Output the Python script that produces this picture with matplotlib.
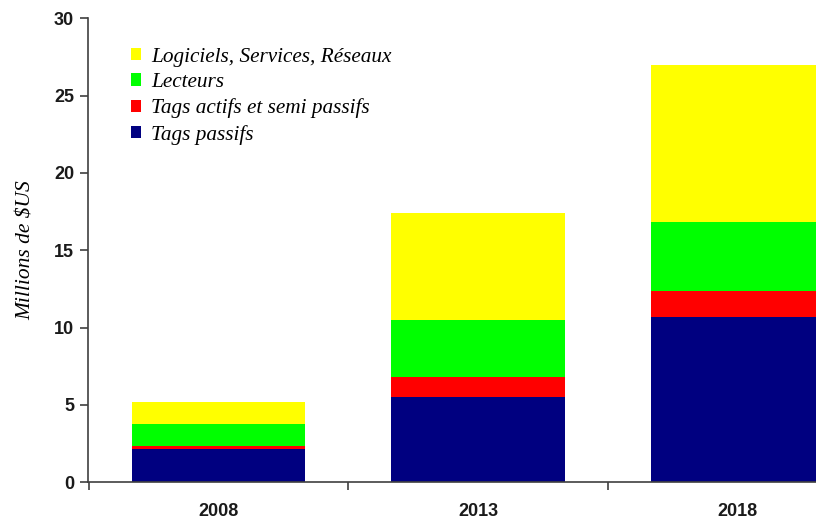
import matplotlib
matplotlib.use("Agg")
import matplotlib.pyplot as plt
from matplotlib.patches import Patch
import numpy as np

years = ["2008", "2013", "2018"]
tags_passifs = [2.15, 5.51, 10.71]
tags_actifs = [0.22, 1.32, 1.64]
lecteurs = [1.42, 3.66, 4.46]
logiciels = [1.42, 6.90, 10.16]

series = [
    ("Tags passifs", tags_passifs, "#000080"),
    ("Tags actifs et semi passifs", tags_actifs, "#ff0000"),
    ("Lecteurs", lecteurs, "#00ff00"),
    ("Logiciels, Services, Réseaux", logiciels, "#ffff00"),
]

fig = plt.figure(figsize=(8.16, 5.22), dpi=100)
ax = fig.add_axes([88/816, 1-482.3/522, 1-88/816, (482.3-18.3)/522])

x = np.arange(len(years))
bottom = np.zeros(len(years))
for name, vals, col in series:
    ax.bar(x, vals, width=0.667, bottom=bottom, color=col, edgecolor="none", zorder=2)
    bottom += np.array(vals)

ax.set_xlim(-0.503, 2.3025)
ax.set_ylim(0, 30)
ax.set_yticks(np.arange(0, 31, 5))
ax.set_xticks([-0.5, 0.5, 1.5])
ax.set_xticklabels([])
ax.set_xticks(x, minor=True)
ax.set_xticklabels(years, minor=True)
ax.tick_params(axis="x", which="minor", length=0, pad=15)
ax.tick_params(axis="x", which="major", length=6, width=1.2, color="#404040", direction="out")
ax.tick_params(axis="y", length=6, width=1.2, color="#404040", direction="out", pad=4)
for lab in ax.get_yticklabels() + ax.get_xticklabels(minor=True):
    lab.set_fontfamily("Liberation Sans")
    lab.set_fontweight("bold")
    lab.set_fontsize(13)
    lab.set_color("#1a1a1a")

for s in ["top", "right"]:
    ax.spines[s].set_visible(False)
for s in ["left", "bottom"]:
    ax.spines[s].set_color("#404040")
    ax.spines[s].set_linewidth(1.2)

ax.set_ylabel("Millions de $US", fontfamily="Liberation Serif", fontstyle="italic",
              fontsize=15.5, labelpad=13)

handles = [Patch(facecolor=c, edgecolor="none", label=n) for n, v, c in reversed(series)]
leg = ax.legend(handles=handles, loc="upper left", bbox_to_anchor=(0.047, 0.955),
                frameon=False, handlelength=0.5, handleheight=0.5, handletextpad=0.45,
                labelspacing=0.3, borderaxespad=0,
                prop={"family": "Liberation Serif", "style": "italic", "size": 15.3})

fig.savefig("out.png", dpi=100)
